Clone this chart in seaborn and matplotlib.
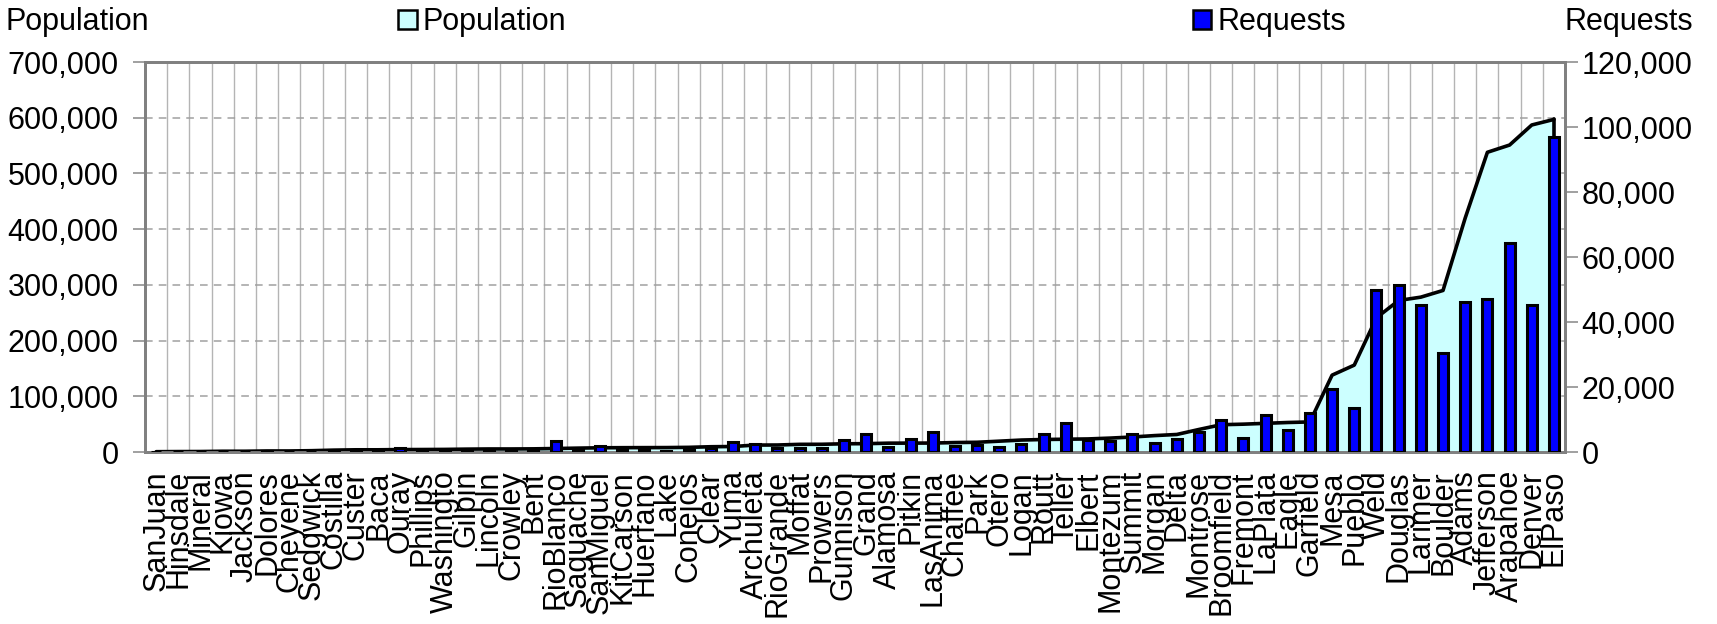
import numpy as np
import pandas as pd
import matplotlib
matplotlib.use("Agg")
import matplotlib.pyplot as plt
import seaborn as sns
from matplotlib.patches import Patch
from matplotlib.ticker import FuncFormatter, MultipleLocator

counties = ["SanJuan", "Hinsdale", "Mineral", "Kiowa", "Jackson", "Dolores", "Cheyene",
            "Sedgwick", "Costilla", "Custer", "Baca", "Ouray", "Phillips", "Washingto",
            "Gilpin", "Lincoln", "Crowley", "Bent", "RioBlanco", "Saguache", "SanMiguel",
            "KitCarson", "Huerfano", "Lake", "Conejos", "Clear", "Yuma", "Archuleta",
            "RioGrande", "Moffat", "Prowers", "Gunnison", "Grand", "Alamosa", "Pitkin",
            "LasAnima", "Chaffee", "Park", "Otero", "Logan", "Routt", "Teller", "Elbert",
            "Montezum", "Summit", "Morgan", "Delta", "Montrose", "Broomfield", "Fremont",
            "LaPlata", "Eagle", "Garfield", "Mesa", "Pueblo", "Weld", "Douglas", "Larimer",
            "Boulder", "Adams", "Jefferson", "Arapahoe", "Denver", "ElPaso"]

population = [600, 800, 900, 1400, 1400, 1900, 1900, 2400, 3400, 4000, 4000, 4400, 4500,
              4700, 5200, 5500, 5500, 5700, 6300, 7000, 7600, 7800, 7900, 8000, 8400, 9500,
              9900, 12500, 12600, 13800, 13900, 14800, 15000, 15900, 16000, 16100, 17000,
              17500, 19500, 21500, 22500, 23000, 23500, 25000, 27000, 29500, 31500, 40500,
              49000, 50000, 51500, 53000, 54000, 138000, 156000, 241000, 272000, 278000,
              290000, 420000, 538000, 551000, 587000, 597000]

requests = [100, 150, 150, 100, 150, 200, 100, 150, 250, 400, 200, 1300, 300, 250, 500,
            300, 200, 300, 3300, 500, 2000, 600, 700, 400, 500, 1200, 3000, 2400, 1200,
            1100, 1200, 3700, 5600, 1400, 4000, 6100, 1900, 2100, 1400, 2400, 5500, 8900,
            3600, 3300, 5600, 2900, 4000, 6300, 9800, 4200, 11400, 6700, 11900, 19500,
            13700, 49800, 51300, 45300, 30500, 46200, 47100, 64200, 45300, 96800]

df = pd.DataFrame({"County": counties, "Population": population, "Requests": requests})
df["pos"] = np.arange(len(df))

FONT = ["Liberation Sans", "DejaVu Sans"]
sns.set_theme(style="white")
plt.rcParams["font.family"] = FONT
plt.rcParams["text.color"] = "black"
plt.rcParams["xtick.color"] = "black"
plt.rcParams["ytick.color"] = "black"
plt.rcParams["xtick.labelcolor"] = "black"
plt.rcParams["ytick.labelcolor"] = "black"
FS = 22

fig = plt.figure(figsize=(17.17, 6.24), dpi=100)
ax = fig.add_axes([0.0845, 0.2756, 0.8270, 0.6250])
ax2 = ax.twinx()

# gridlines (behind area)
ax.set_axisbelow(True)
for b in np.arange(0.5, len(df) - 1, 1.0):
    ax.axvline(b, color="#b4b4b4", lw=1.0, zorder=0)
ax.yaxis.grid(True, color="#a0a0a0", lw=1.1, ls=(0, (5, 4)), zorder=0)

# population area
ax.fill_between(df["pos"], df["Population"], 0, color="#ccffff", zorder=2, lw=0)
sns.lineplot(data=df, x="pos", y="Population", ax=ax, color="black", lw=2.6, zorder=3,
             legend=False)
ax.plot([df["pos"].iloc[-1]] * 2, [0, df["Population"].iloc[-1]], color="black", lw=2.6,
        zorder=3)

# request bars
sns.barplot(data=df, x="County", y="Requests", ax=ax2, color="#0000ff", saturation=1,
            width=0.45, edgecolor="black", linewidth=2.2, zorder=4)

ax.set_xlim(-0.5, len(df) - 0.5)
ax.set_ylim(0, 700000)
ax2.set_ylim(0, 120000)
ax.yaxis.set_major_locator(MultipleLocator(100000))
ax2.yaxis.set_major_locator(MultipleLocator(20000))
fmt = FuncFormatter(lambda v, p: f"{int(v):,}")
ax.yaxis.set_major_formatter(fmt)
ax2.yaxis.set_major_formatter(fmt)
ax2.set_xlabel("")
ax.set_xlabel("")
ax.set_ylabel("")
ax2.set_ylabel("")

ax.set_xticks(np.arange(len(df)))
ax.set_xticklabels(counties, rotation=90, fontsize=FS)
ax.tick_params(axis="x", which="major", length=0, pad=13, labelbottom=True,
               labelcolor="black")
ax.set_xticks(np.arange(-0.5, len(df), 1.0), minor=True)
ax.tick_params(axis="x", which="minor", length=9, width=1.2, color="#808080")
ax.set_xlim(-0.5, len(df) - 0.5)

ax.tick_params(axis="y", labelsize=FS, length=9, width=1.2, color="#909090", pad=10,
               left=True, labelcolor="black")
ax2.tick_params(axis="y", labelsize=FS, length=9, width=1.2, color="#909090", pad=3,
                right=True, labelcolor="black")

for a in (ax, ax2):
    for s in a.spines.values():
        s.set_color("#808080")
        s.set_linewidth(2.0)

fig.text(5 / 1717, 1 - 22 / 624, "Population", fontsize=FS, ha="left", va="center")
fig.text(1693 / 1717, 1 - 22 / 624, "Requests", fontsize=FS, ha="right", va="center")

handles = [Patch(facecolor="#ccffff", edgecolor="black", lw=1.8, label="Population"),
           Patch(facecolor="#0000ff", edgecolor="black", lw=1.8, label="Requests")]
fig.legend(handles=handles, loc="center", bbox_to_anchor=(0.508, 1 - 22 / 624), ncol=2,
           frameon=False, fontsize=FS, handlelength=0.6, handleheight=0.6,
           handletextpad=0.2, columnspacing=20.5, borderaxespad=0, borderpad=0)

fig.savefig("out.png", dpi=100)
